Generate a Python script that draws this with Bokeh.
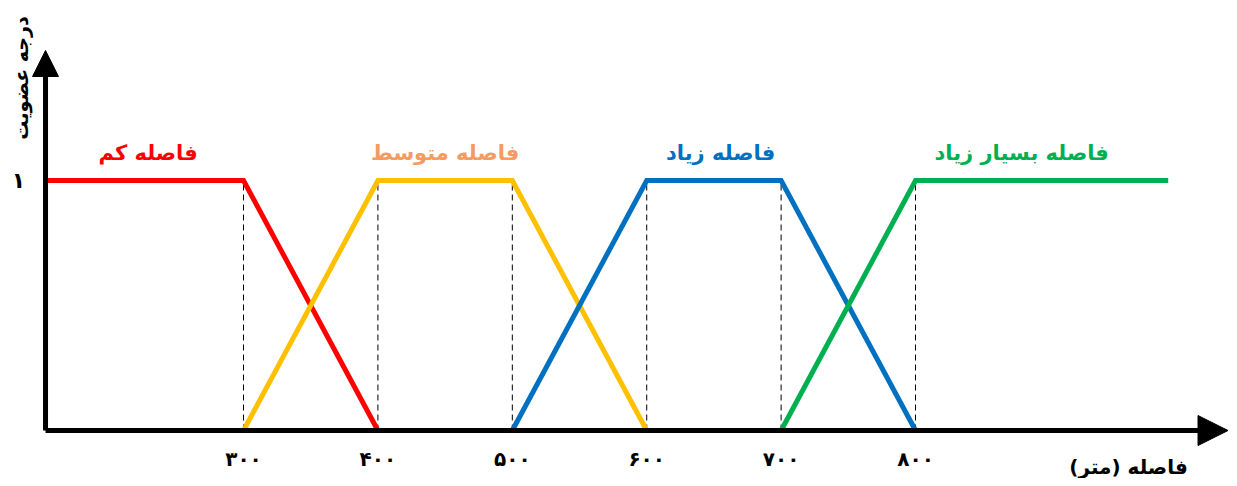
from bokeh.plotting import figure
from bokeh.models import Range1d, Arrow, NormalHead, ColumnDataSource
from bokeh.core.properties import value
from bokeh.embed import file_html
from bokeh.resources import INLINE

# ---- data ----
ticks = [300, 400, 500, 600, 700, 800]
tick_labels = ["۳۰۰", "۴۰۰", "۵۰۰", "۶۰۰", "۷۰۰", "۸۰۰"]

low_x = [152, 300, 400]
low_y = [1, 1, 0]
mid_x = [300, 400, 500, 600]
mid_y = [0, 1, 1, 0]
high_x = [500, 600, 700, 800]
high_y = [0, 1, 1, 0]
vhigh_x = [700, 800, 988]
vhigh_y = [0, 1, 1]

set_names = ["فاصله کم", "فاصله متوسط", "فاصله زیاد", "فاصله بسیار زیاد"]
set_label_x = [229, 450, 655, 879]
set_label_colors = ["#FF0000", "#F59B5F", "#0070C0", "#00B050"]

x_title = "فاصله (متر)"
y_title = "درجه عضویت"
y_tick_label = "۱"

FONT = value("DejaVu Sans")

p = figure(width=1229, height=478, output_backend="svg", toolbar_location=None,
           x_range=Range1d(119.2, 1033.6), y_range=Range1d(-0.192, 1.72),
           min_border=0, min_border_left=0, min_border_right=0,
           min_border_top=0, min_border_bottom=0)
p.axis.visible = False
p.grid.visible = False
p.outline_line_color = None
p.background_fill_color = "white"
p.border_fill_color = "white"

# dashed guide lines
for t in ticks:
    p.line([t, t], [0, 1], line_color="black", line_width=1, line_dash="6 4")

# axes as arrows
p.add_layout(Arrow(end=NormalHead(size=30, fill_color="black", line_color="black"),
                   x_start=152.7, y_start=0, x_end=1032.5, y_end=0,
                   line_width=5, line_color="black"))
p.add_layout(Arrow(end=NormalHead(size=26, fill_color="black", line_color="black"),
                   x_start=152.7, y_start=0, x_end=152.7, y_end=1.52,
                   line_width=5, line_color="black"))

# membership functions
p.line(low_x, low_y, line_color="#FF0000", line_width=5, line_join="miter")
p.line(mid_x, mid_y, line_color="#FFC000", line_width=5, line_join="miter")
p.line(high_x, high_y, line_color="#0070C0", line_width=5, line_join="miter")
p.line(vhigh_x, vhigh_y, line_color="#00B050", line_width=5, line_join="miter")

# set names
src = ColumnDataSource(dict(x=set_label_x, y=[1.11] * 4, t=set_names, c=set_label_colors))
p.text(x="x", y="y", text="t", text_color="c", source=src, text_font=FONT,
       text_font_style="bold", text_font_size="21px", text_align="center",
       text_baseline="middle")

# tick labels
tsrc = ColumnDataSource(dict(x=ticks, y=[-0.112] * len(ticks), t=tick_labels))
p.text(x="x", y="y", text="t", source=tsrc, text_font=FONT, text_font_style="bold",
       text_font_size="20px", text_align="center", text_baseline="middle",
       text_color="black")

p.text(x=[132.6], y=[1.0], text=[y_tick_label], text_font=FONT, text_font_style="bold",
       text_font_size="22px", text_align="center", text_baseline="middle",
       text_color="black")

# axis titles
p.text(x=[958.5], y=[-0.144], text=[x_title], text_font=FONT, text_font_style="bold",
       text_font_size="20px", text_align="center", text_baseline="middle",
       text_color="black")
p.text(x=[134.1], y=[1.41], text=[y_title], text_font=FONT, text_font_style="bold",
       text_font_size="19px", text_align="center", text_baseline="middle",
       text_color="black", angle=1.5708)

open("out.html", "w").write(file_html(p, INLINE))
